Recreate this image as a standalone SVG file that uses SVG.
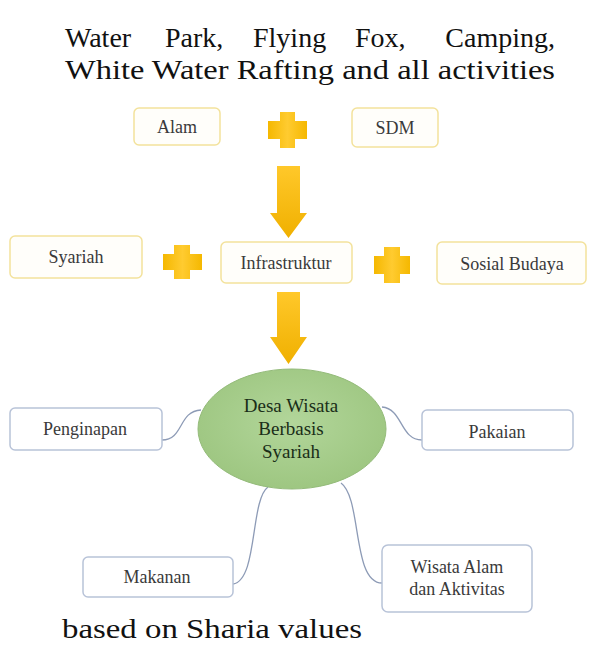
<svg xmlns="http://www.w3.org/2000/svg" width="589" height="653" viewBox="0 0 589 653">
<defs>
<linearGradient id="gold" x1="0" y1="0" x2="0" y2="1">
<stop offset="0" stop-color="#ffc82a"/>
<stop offset="1" stop-color="#f0b000"/>
</linearGradient>
<linearGradient id="goldH" x1="0" y1="0" x2="1" y2="0">
<stop offset="0" stop-color="#f5b800"/>
<stop offset="0.5" stop-color="#ffcb30"/>
<stop offset="1" stop-color="#f5b800"/>
</linearGradient>
<radialGradient id="green" cx="0.5" cy="0.45" r="0.6">
<stop offset="0" stop-color="#b2d69a"/>
<stop offset="1" stop-color="#9cc57f"/>
</radialGradient>
</defs>
<style>
.para{font-size:28px;fill:#111}
.ybox{fill:#fffefa;stroke:#f3e29c;stroke-width:1.5}
.bbox{fill:#ffffff;stroke:#b8c3d8;stroke-width:1.5}
.lbl{font-size:18px;fill:#3a3a3a;text-anchor:middle}
.elbl{font-size:19px;fill:#1a2e18;text-anchor:middle}
.plus{fill:url(#goldH)}
.arrow{fill:url(#gold)}
.conn{fill:none;stroke:#8d9bb6;stroke-width:1.3}
</style>
<rect width="589" height="653" fill="#ffffff"/>

<g id="caption-top" font-family="'Liberation Serif', 'Times New Roman', serif">
<text class="para" x="65" y="47">Water</text>
<text class="para" x="165" y="47">Park,</text>
<text class="para" x="253" y="47">Flying</text>
<text class="para" x="355" y="47">Fox,</text>
<text class="para" x="555" y="47" text-anchor="end">Camping,</text>
<text class="para" x="65" y="79" textLength="490" lengthAdjust="spacingAndGlyphs">White Water Rafting and all activities</text>
</g>

<g font-family="'Liberation Serif', 'Times New Roman', serif">
<g id="alam"><rect class="ybox" x="134" y="108" width="86" height="37" rx="5"/><text class="lbl" x="177" y="133">Alam</text></g>
<g id="plus1"><path class="plus" d="M280 112h15v9h12v18h-12v9h-15v-9h-12v-18h12z"/></g>
<g id="sdm"><rect class="ybox" x="352" y="108" width="86" height="39" rx="5"/><text class="lbl" x="395" y="134">SDM</text></g>

<g id="syariah"><rect class="ybox" x="10" y="236" width="132" height="42" rx="5"/><text class="lbl" x="76" y="263">Syariah</text></g>
<g id="plus2"><path class="plus" d="M174 245h16v9h12v16h-12v9h-16v-9h-11v-16h11z"/></g>
<g id="infrastruktur"><rect class="ybox" x="221" y="242" width="131" height="41" rx="5"/><text class="lbl" x="286" y="269">Infrastruktur</text></g>
<g id="plus3"><path class="plus" d="M384 247h16v9h10v18h-10v9h-16v-9h-10v-18h10z"/></g>
<g id="sosial-budaya"><rect class="ybox" x="437" y="242" width="149" height="42" rx="5"/><text class="lbl" x="512" y="270">Sosial Budaya</text></g>

<g id="arrows">
<path class="arrow" d="M277 166h23v47h7l-18.5 25l-18.5-25h7z"/>
<path class="arrow" d="M277 292h23v45h7l-18.5 27l-18.5-27h7z"/>
</g>

<g id="connectors">
<path class="conn" d="M162 440C184 440 178 411 201 410"/>
<path class="conn" d="M382 407C403 409 400 440 422 440"/>
<path class="conn" d="M268 487C250 500 258 580 233 584"/>
<path class="conn" d="M341 483C362 498 352 583 382 583"/>
</g>

<g id="desa-wisata">
<ellipse cx="292" cy="429" rx="94" ry="60" fill="url(#green)" stroke="#94bb7a" stroke-width="1"/>
<text class="elbl" x="291" y="412">Desa Wisata</text>
<text class="elbl" x="291" y="435">Berbasis</text>
<text class="elbl" x="291" y="458">Syariah</text>
</g>

<g id="penginapan"><rect class="bbox" x="10" y="408" width="152" height="42" rx="5"/><text class="lbl" x="85" y="435">Penginapan</text></g>
<g id="pakaian"><rect class="bbox" x="422" y="410" width="151" height="40" rx="5"/><text class="lbl" x="497" y="438">Pakaian</text></g>
<g id="makanan"><rect class="bbox" x="83" y="557" width="150" height="40" rx="5"/><text class="lbl" x="157" y="583">Makanan</text></g>
<g id="wisata-alam"><rect class="bbox" x="382" y="545" width="150" height="67" rx="6"/><text class="lbl" x="457" y="573">Wisata Alam</text><text class="lbl" x="457" y="595">dan Aktivitas</text></g>
</g>

<g id="caption-bottom" font-family="'Liberation Serif', 'Times New Roman', serif">
<text class="para" x="62" y="638" textLength="300" lengthAdjust="spacingAndGlyphs">based on Sharia values</text>
</g>
</svg>
